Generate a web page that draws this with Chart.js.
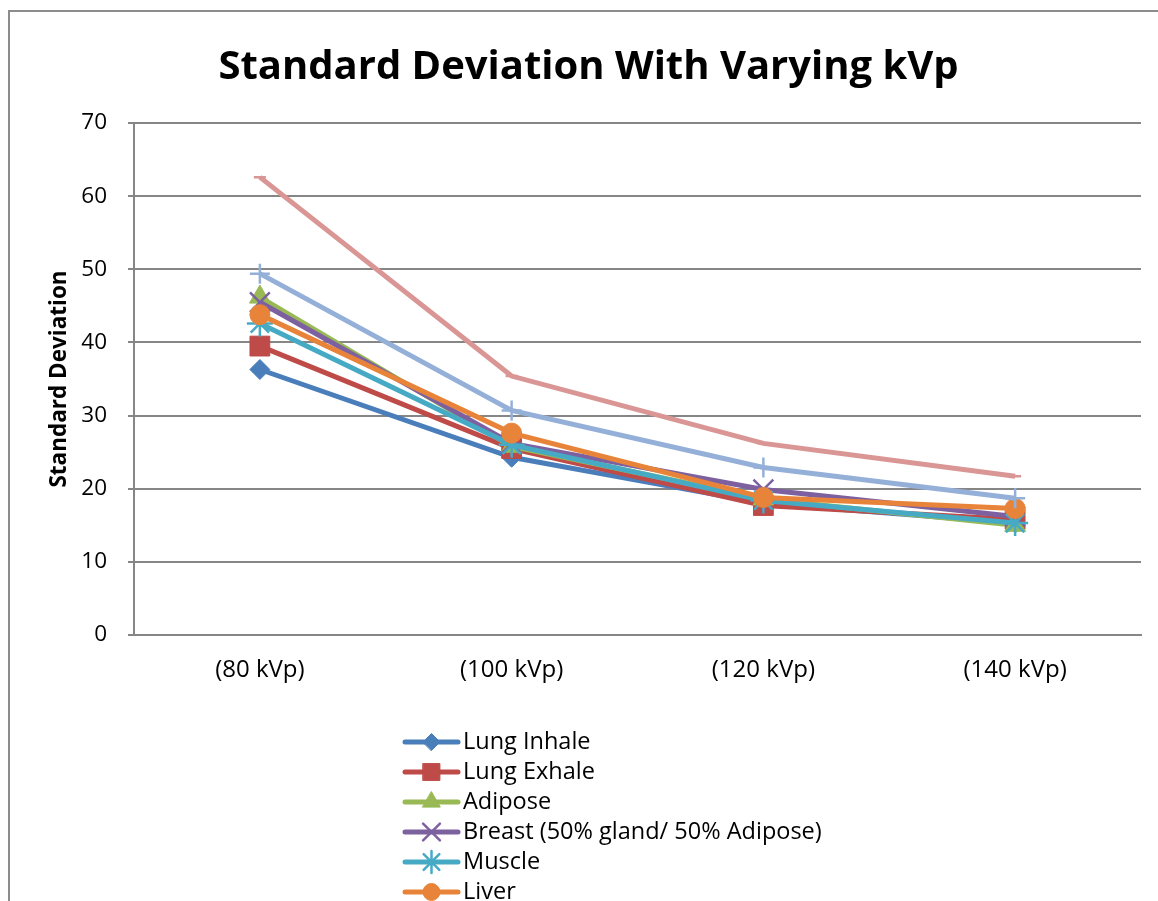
<!DOCTYPE html>
<html>
<head>
<meta charset="utf-8">
<title>Standard Deviation With Varying kVp</title>
<script src="https://cdn.jsdelivr.net/npm/chart.js@4.4.1/dist/chart.umd.min.js"></script>
<style>
html, body { margin: 0; padding: 0; background: #fff; overflow: hidden; }
#frame { position: absolute; left: 8px; top: 10px; width: 1200px; height: 1000px;
         border-left: 2px solid #8c8c8c; border-top: 2px solid #8c8c8c; }
#wrap { position: absolute; left: 0; top: 0; width: 1158px; height: 960px; }
</style>
</head>
<body>
<div id="frame"></div>
<div id="wrap"><canvas id="chart"></canvas></div>
<script>
var categories = ['(80 kVp)', '(100 kVp)', '(120 kVp)', '(140 kVp)'];

var seriesNames = ['Lung Inhale', 'Lung Exhale', 'Adipose', 'Breast (50% gland/ 50% Adipose)',
                   'Muscle', 'Liver', 'Trabecular Bone', 'Dense Bone'];

var lungInhale = [36.3, 24.3, 18.0, 15.3];
var lungExhale = [39.5, 25.5, 17.7, 15.8];
var adipose    = [46.2, 25.8, 18.6, 15.0];
var breast     = [45.5, 26.2, 19.9, 16.2];
var muscle     = [42.6, 26.0, 18.4, 15.3];
var liver      = [43.8, 27.6, 18.8, 17.3];
var trabBone   = [49.4, 30.7, 22.9, 18.7];
var denseBone  = [62.6, 35.4, 26.2, 21.7];

var yTicks = [0, 10, 20, 30, 40, 50, 60, 70];

var seriesData = [lungInhale, lungExhale, adipose, breast, muscle, liver, trabBone, denseBone];
var colors  = ['#4A7EBB', '#BE4B48', '#98B954', '#7D60A0', '#46AAC5', '#E8843A', '#95B0D8', '#D99694'];
var markers = ['rectRot', 'rect', 'triangle', 'crossRot', 'star', 'circle', 'cross', 'line'];
var radii   = [10, 14, 12, 14, 13, 10, 10, 6];

var FONT = '"Open Sans", sans-serif';

var datasets = seriesData.map(function(d, i) {
    var filled = i < 3 || i == 5;
    return {
        label: seriesNames[i],
        data: d,
        borderColor: colors[i],
        backgroundColor: colors[i],
        borderWidth: 5,
        tension: 0,
        pointStyle: markers[i],
        pointRadius: radii[i],
        pointHoverRadius: radii[i],
        pointBackgroundColor: colors[i],
        pointBorderColor: colors[i],
        pointBorderWidth: filled ? 1 : 2.5,
        order: seriesData.length - 1 - i
    };
});

// legend drawn as one column: line + marker + name
var columnLegend = {
    id: 'columnLegend',
    afterDraw: function(chart) {
        var ctx = chart.ctx;
        var x0 = 405, x1 = 458, tx = 463;
        var y0 = chart.chartArea.bottom + 107, step = 30;
        chart.data.datasets.forEach(function(ds, i) {
            var y = y0 + i * step;
            ctx.save();
            ctx.strokeStyle = ds.borderColor;
            ctx.lineWidth = 5;
            ctx.lineCap = 'round';
            ctx.beginPath();
            ctx.moveTo(x0, y);
            ctx.lineTo(x1, y);
            ctx.stroke();
            ctx.fillStyle = ds.pointBackgroundColor;
            ctx.strokeStyle = ds.pointBorderColor;
            ctx.lineWidth = ds.pointBorderWidth;
            Chart.helpers.drawPoint(ctx, {
                pointStyle: ds.pointStyle,
                radius: ds.pointRadius * 0.85,
                borderWidth: ds.pointBorderWidth,
                rotation: 0
            }, (x0 + x1) / 2, y);
            ctx.fillStyle = '#000';
            ctx.font = '23.5px ' + FONT;
            ctx.textAlign = 'left';
            ctx.textBaseline = 'middle';
            ctx.fillText(ds.label, tx, y);
            ctx.restore();
        });
    }
};

new Chart(document.getElementById('chart'), {
    type: 'line',
    data: { labels: categories, datasets: datasets },
    plugins: [columnLegend],
    options: {
        responsive: true,
        maintainAspectRatio: false,
        animation: false,
        layout: { padding: { left: 36, right: 17, top: 0, bottom: 255 } },
        plugins: {
            legend: { display: false },
            tooltip: { enabled: false },
            title: {
                display: true,
                text: 'Standard Deviation With Varying kVp',
                color: '#000',
                font: { family: FONT, size: 40, weight: 'bold' },
                padding: { top: 44, bottom: 31 }
            }
        },
        scales: {
            x: {
                offset: true,
                afterFit: function(s) { s.height = 70; },
                grid: { display: false, drawTicks: false },
                border: { display: true, color: '#868686', width: 2 },
                ticks: { color: '#000', padding: 21, font: { family: FONT, size: 24 } }
            },
            y: {
                min: 0,
                max: 70,
                afterFit: function(s) { s.width = 98; },
                afterBuildTicks: function(s) {
                    s.ticks = yTicks.map(function(v) { return { value: v }; });
                },
                grid: { color: '#868686', lineWidth: 2, tickLength: 6 },
                border: { display: true, color: '#868686', width: 2 },
                ticks: { color: '#000', padding: 21, font: { family: FONT, size: 22.5 } },
                title: {
                    display: true,
                    text: 'Standard Deviation',
                    color: '#000',
                    font: { family: FONT, size: 22.5, weight: 'bold' },
                    padding: { top: 10, bottom: 0 }
                }
            }
        }
    }
});
</script>
</body>
</html>
